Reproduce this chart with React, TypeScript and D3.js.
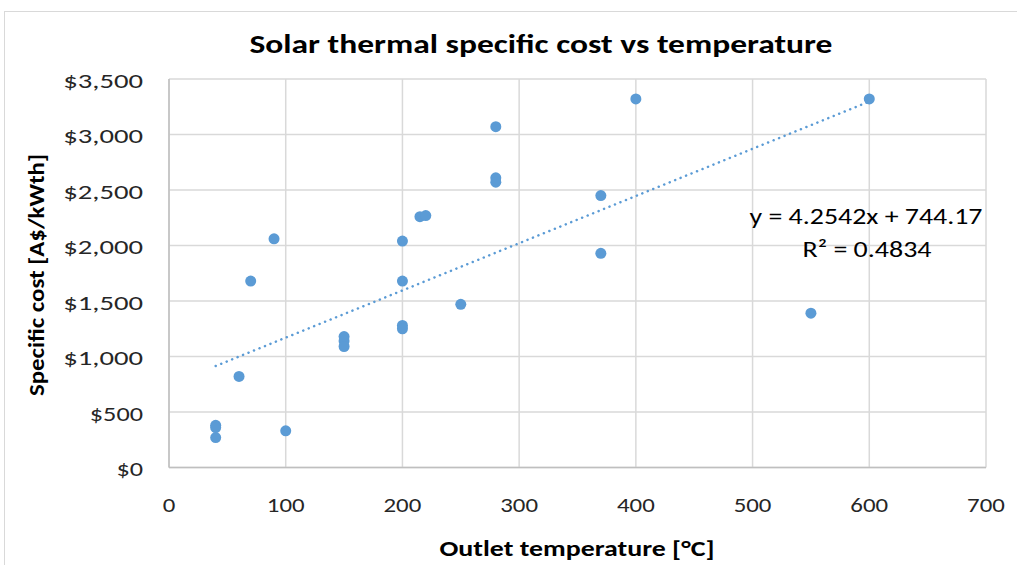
import React from "react";
import * as d3 from "d3";

const temps = [40, 40, 40, 60, 70, 90, 100, 150, 150, 150, 200, 200, 200, 200, 215, 220, 250, 280, 280, 280, 370, 370, 400, 550, 600];
const costs = [380, 360, 270, 820, 1680, 2060, 330, 1180, 1140, 1090, 2040, 1680, 1280, 1250, 2260, 2270, 1470, 3070, 2610, 2570, 2450, 1930, 3320, 1390, 3320];
const xTicks = [0, 100, 200, 300, 400, 500, 600, 700];
const yTicks = [0, 500, 1000, 1500, 2000, 2500, 3000, 3500];
const slope = 4.2542;
const intercept = 744.17;
const trendRange = [40, 600];
const title = "Solar thermal specific cost vs temperature";
const xTitle = "Outlet temperature [°C]";
const yTitle = "Specific cost [A$/kWth]";
const eqText = "y = 4.2542x + 744.17";
const r2Text = "R² = 0.4834";

export default function App() {
  const W = 1017, H = 565;
  const x = d3.scaleLinear().domain([0, 700]).range([169, 986]);
  const y = d3.scaleLinear().domain([0, 3500]).range([467.5, 79]);
  const fmt = (v: number) => "$" + d3.format(",")(v);
  const font = "Carlito, Calibri, 'Open Sans', sans-serif";
  const line = d3.line<number>().x((d) => x(d)).y((d) => y(slope * d + intercept));
  const blue = "#5B9BD5";
  const txt = "#262626";
  return (
    <svg width={W} height={H} style={{ position: "absolute", left: 0, top: 0, fontFamily: font }}>
      <rect x={0} y={0} width={W} height={H} fill="#fff" />
      <rect x={4.5} y={11.5} width={W + 10} height={H + 10} fill="none" stroke="#d9d9d9" strokeWidth={1} />
      <text x={541} y={52.5} textAnchor="middle" fontSize={26} fontWeight="bold" fill="#000" textLength={583} lengthAdjust="spacingAndGlyphs">{title}</text>
      {yTicks.map((t) => (
        <line key={"gy" + t} x1={x(0)} x2={x(700)} y1={y(t)} y2={y(t)} stroke="#d9d9d9" strokeWidth={1.5} />
      ))}
      {xTicks.map((t) => (
        <line key={"gx" + t} x1={x(t)} x2={x(t)} y1={y(0)} y2={y(3500)} stroke="#d9d9d9" strokeWidth={1.5} />
      ))}
      <line x1={x(0)} x2={x(700)} y1={y(0)} y2={y(0)} stroke="#bfbfbf" strokeWidth={1.5} />
      <line x1={x(0)} x2={x(0)} y1={y(0)} y2={y(3500)} stroke="#bfbfbf" strokeWidth={1.5} />
      {yTicks.map((t) => (
        <text key={"ly" + t} x={143} y={y(t) + 8.5} textAnchor="end" fontSize={21} fill={txt} textLength={fmt(t).length * 13.3} lengthAdjust="spacingAndGlyphs">{fmt(t)}</text>
      ))}
      {xTicks.map((t) => (
        <text key={"lx" + t} x={x(t)} y={512} textAnchor="middle" fontSize={21} fill={txt} textLength={String(t).length * 12.6} lengthAdjust="spacingAndGlyphs">{t}</text>
      ))}
      <path d={line(trendRange) || ""} fill="none" stroke={blue} strokeWidth={2.5} strokeDasharray="0.1 5.8" strokeLinecap="round" />
      {temps.map((t, i) => (
        <circle key={i} cx={x(t)} cy={y(costs[i])} r={5.5} fill={blue} />
      ))}
      <text x={866} y={224} textAnchor="middle" fontSize={23} fill="#000" textLength={233} lengthAdjust="spacingAndGlyphs">{eqText}</text>
      <text x={867} y={257} textAnchor="middle" fontSize={23} fill="#000" textLength={129} lengthAdjust="spacingAndGlyphs">{r2Text}</text>
      <text x={577} y={556} textAnchor="middle" fontSize={23} fontWeight="bold" fill="#000" textLength={275} lengthAdjust="spacingAndGlyphs">{xTitle}</text>
      <text transform={`translate(44,275) rotate(-90)`} textAnchor="middle" fontSize={23} fontWeight="bold" fill="#000" textLength={242} lengthAdjust="spacingAndGlyphs">{yTitle}</text>
    </svg>
  );
}
